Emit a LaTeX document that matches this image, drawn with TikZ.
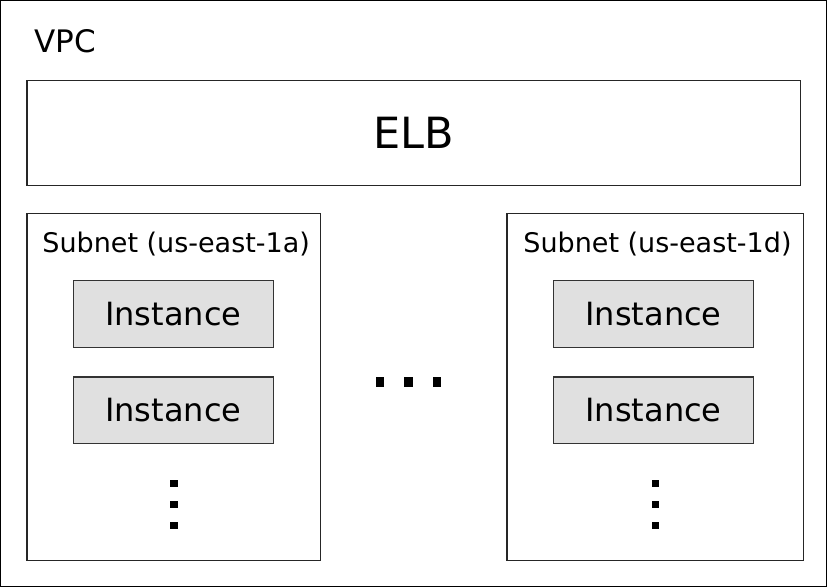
\documentclass[tikz,border=0pt]{standalone}
\usepackage{fontspec}
\setmainfont{DejaVu Sans}

\begin{document}
\begin{tikzpicture}[x=1pt,y=-1pt,
   box/.style={draw=black!85,line width=1.3pt},
   inst/.style={draw=black!80,fill=black!12,line width=1.3pt,inner sep=0pt,
     minimum width=200pt,minimum height=66.6pt,font=\fontsize{32}{38}\selectfont},
   lbl/.style={inner sep=0pt,anchor=base west}]
   \useasboundingbox (0,0) rectangle (828,588);
   % outer VPC frame
   \draw[box,draw=black] (0.8,0.8) rectangle (826.2,586.7);
   \node[lbl,font=\fontsize{31}{36}\selectfont] (vpc) at (34.5,52.3) {VPC};
   % load balancer
   \node[box,inner sep=0pt,minimum width=773.7pt,minimum height=105.2pt,
     font=\fontsize{43}{50}\selectfont] (elb) at (413.9,133.1) {ELB};
   % subnets
   \draw[box] (27,213.3) rectangle (320.7,560.7);
   \draw[box] (507,213.3) rectangle (803.3,560.7);
   \node[lbl,font=\fontsize{27}{32}\selectfont] (suba) at (42.2,252.7) {Subnet (us-east-1a)};
   \node[lbl,font=\fontsize{27}{32}\selectfont] (subd) at (523.2,252.7) {Subnet (us-east-1d)};
   % instances
   \node[inst] (insta1) at (173.3,314) {Instance};
   \node[inst] (insta2) at (173.3,410.3) {Instance};
   \node[inst] (instd1) at (653.5,314) {Instance};
   \node[inst] (instd2) at (653.5,410.3) {Instance};
   % more subnets / instances
   \foreach \x in {380,408.5,437}
     \fill (\x-4.3,376.7) rectangle (\x+4.3,387.3);
   \foreach \x in {174,655.5}
     \foreach \y in {483.3,504.3,525.7}
       \fill (\x-3.8,\y-3.3) rectangle (\x+3.8,\y+3.3);
\end{tikzpicture}
\end{document}
